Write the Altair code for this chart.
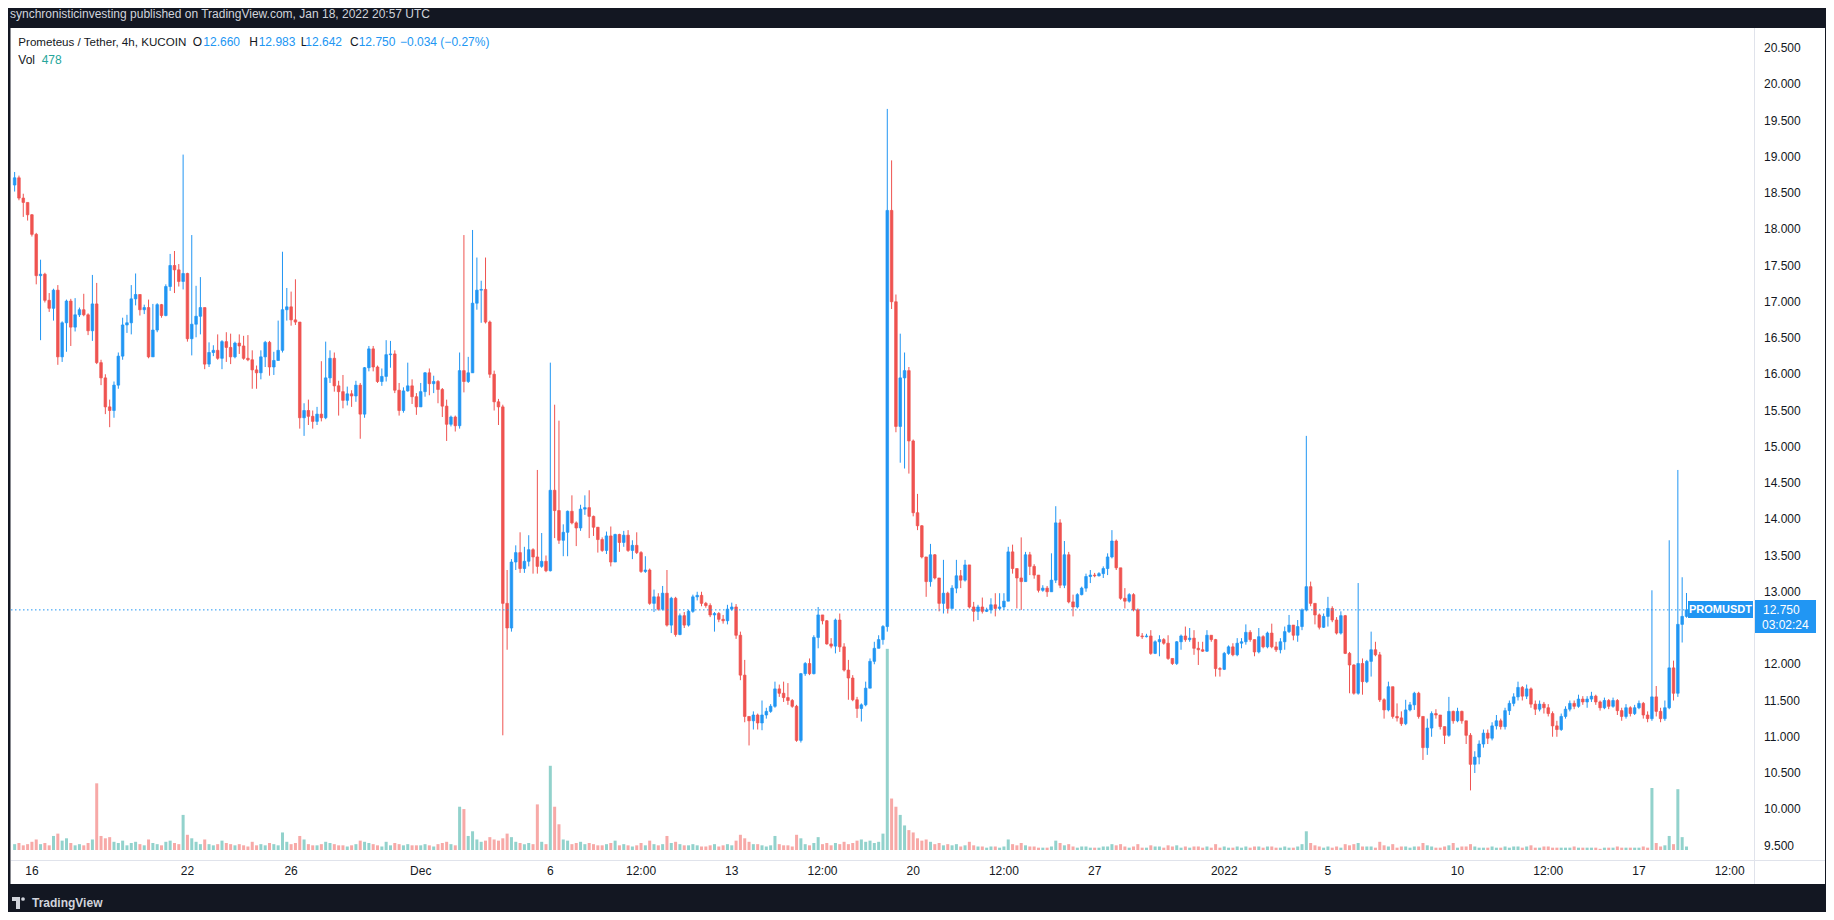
import altair as alt
import pandas as pd

# PROM/USDT 4h candles (KuCoin).
# First candle opens Nov 15 08:00 UTC, every later candle opens at the previous close.
FIRST_OPEN = 18.61

CLOSE = [
    18.71, 18.43, 18.37, 18.20,                      # Nov 15 (08:00 ->)
    17.93, 17.36, 17.38, 17.02, 16.91, 17.16,        # Nov 16
    16.24, 16.71, 17.01, 16.65, 16.82, 16.89,
    16.82, 16.60, 16.97, 16.16, 15.95, 15.55,
    15.50, 15.85, 16.25, 16.68, 16.71, 17.04,
    17.10, 16.89, 16.92, 16.24, 16.61, 16.96,        # Nov 20
    16.81, 17.21, 17.50, 17.44, 17.28, 17.39,
    16.49, 16.69, 16.80, 16.92, 16.14, 16.30,
    16.33, 16.22, 16.45, 16.37, 16.24, 16.43,
    16.39, 16.22, 16.20, 16.06, 16.02, 16.24,
    16.44, 16.10, 16.19, 16.33, 16.89, 16.93,        # Nov 25
    16.75, 16.72, 15.40, 15.50, 15.42, 15.35,
    15.45, 15.40, 15.95, 16.22, 15.84, 15.76,
    15.64, 15.73, 15.70, 15.85, 15.45, 16.09,
    16.35, 16.10, 15.90, 15.97, 16.27, 16.28,
    15.78, 15.50, 15.77, 15.84, 15.69, 15.55,        # Nov 30
    15.76, 16.02, 15.87, 15.90, 15.79, 15.56,        # Dec 1
    15.31, 15.41, 15.29, 16.05, 15.90, 16.02,
    16.98, 17.16, 17.17, 16.72, 16.00, 15.62,
    15.55, 12.84, 12.50, 13.41, 13.54, 13.32,
    13.42, 13.58, 13.48, 13.35, 13.42, 13.29,        # Dec 5
    14.40, 14.12, 13.71, 13.82, 14.11, 13.95,
    13.88, 14.14, 14.16, 14.04, 13.89, 13.72,
    13.57, 13.77, 13.41, 13.79, 13.68, 13.78,
    13.57, 13.64, 13.54, 13.28, 13.30, 12.84,
    12.93, 12.76, 12.98, 12.54, 12.91, 12.41,        # Dec 10
    12.67, 12.54, 12.73, 12.93, 12.95, 12.84,
    12.81, 12.68, 12.70, 12.62, 12.60, 12.76,
    12.79, 12.40, 11.85, 11.28, 11.22, 11.30,
    11.19, 11.30, 11.35, 11.42, 11.66, 11.60,
    11.54, 11.50, 11.42, 10.95, 11.87, 12.01,        # Dec 15
    11.87, 12.37, 12.68, 12.60, 12.28, 12.25,
    12.61, 12.24, 11.92, 11.81, 11.51, 11.39,
    11.44, 11.67, 12.04, 12.22, 12.34, 12.52,
    18.26, 17.00, 15.28, 15.95, 16.05, 15.08,
    14.09, 13.91, 13.48, 13.14, 13.51, 13.19,        # Dec 20
    12.84, 12.98, 12.77, 13.05, 13.22, 13.16,
    13.37, 12.79, 12.73, 12.79, 12.73, 12.75,
    12.82, 12.77, 12.79, 12.87, 13.55, 13.32,
    13.19, 13.14, 13.51, 13.35, 13.23, 13.02,
    13.05, 13.00, 13.16, 13.95, 13.09, 13.51,        # Dec 25
    12.86, 12.79, 12.96, 13.05, 13.21, 13.23,
    13.22, 13.25, 13.32, 13.48, 13.70, 13.33,
    12.91, 12.87, 12.96, 12.75, 12.39, 12.38,
    12.39, 12.15, 12.31, 12.34, 12.29, 12.08,
    12.01, 12.31, 12.39, 12.34, 12.36, 12.22,        # Dec 30
    12.20, 12.18, 12.40, 12.34, 11.94, 11.93,
    12.15, 12.24, 12.13, 12.29, 12.31, 12.44,        # Jan 1
    12.34, 12.17, 12.38, 12.24, 12.43, 12.24,
    12.20, 12.31, 12.45, 12.54, 12.40, 12.52,
    12.75, 13.07, 12.84, 12.68, 12.51, 12.66,
    12.77, 12.61, 12.43, 12.67, 12.15, 11.99,        # Jan 5
    11.60, 12.01, 11.76, 12.04, 12.20, 12.13,
    11.51, 11.37, 11.69, 11.28, 11.26, 11.18,
    11.37, 11.44, 11.60, 11.28, 10.85, 11.12,
    11.32, 11.30, 11.14, 11.02, 11.35, 11.22,
    11.35, 11.22, 11.02, 10.62, 10.72, 10.90,        # Jan 10
    11.05, 10.98, 11.15, 11.22, 11.14, 11.36,
    11.46, 11.55, 11.68, 11.56, 11.66, 11.45,
    11.38, 11.45, 11.40, 11.32, 11.15, 11.10,
    11.28, 11.38, 11.46, 11.42, 11.52, 11.48,
    11.52, 11.56, 11.48, 11.40, 11.50, 11.42,        # Jan 15
    11.50, 11.36, 11.28, 11.40, 11.32, 11.40,
    11.46, 11.30, 11.25, 11.55, 11.35, 11.25,
    11.40, 11.95, 11.60, 12.55, 12.66, 12.75,        # Jan 18
]

HIGH = [
    18.79, 18.74, 18.49, 18.36,
    18.21, 17.95, 17.58, 17.40, 17.12, 17.18,
    17.23, 16.73, 17.03, 17.04, 17.05, 16.92,
    17.11, 16.84, 17.37, 17.26, 16.20, 16.00,
    15.65, 15.90, 16.30, 16.78, 16.82, 17.23,
    17.39, 17.10, 16.96, 17.03, 16.97, 16.98,
    16.97, 17.24, 17.66, 17.70, 17.52, 19.03,
    17.40, 17.92, 17.22, 17.34, 16.92, 16.44,
    16.40, 16.55, 16.47, 16.58, 16.56, 16.45,
    16.55, 16.53, 16.54, 16.33, 16.12, 16.33,
    16.46, 16.46, 16.31, 16.74, 17.69, 17.19,
    17.14, 17.31, 16.72, 15.60, 15.65, 15.50,
    15.55, 16.18, 16.45, 16.33, 16.30, 15.91,
    15.99, 15.83, 15.78, 15.91, 15.88, 16.10,
    16.39, 16.39, 16.12, 16.08, 16.47, 16.46,
    16.33, 15.88, 15.82, 16.16, 15.93, 15.74,
    15.88, 16.03, 16.08, 15.98, 15.92, 15.81,
    15.65, 15.43, 15.43, 16.30, 17.92, 16.24,
    17.99, 17.61, 17.29, 17.61, 16.74, 16.05,
    15.66, 15.58, 13.30, 13.45, 13.64, 13.82,
    13.62, 13.78, 13.60, 14.68, 13.81, 13.50,
    16.16, 15.58, 15.36, 13.93, 14.12, 14.33,
    13.97, 14.20, 14.33, 14.40, 14.05, 13.88,
    13.75, 13.83, 13.90, 13.80, 13.80, 13.84,
    13.85, 13.71, 13.82, 13.56, 13.49, 13.32,
    13.03, 12.98, 13.08, 13.30, 12.93, 12.93,
    12.70, 12.72, 12.75, 12.96, 13.00, 13.00,
    12.86, 12.84, 12.72, 12.72, 12.68, 12.82,
    12.85, 12.83, 12.45, 12.06, 11.25, 11.35,
    11.32, 11.50, 11.40, 11.45, 11.76, 11.72,
    11.76, 11.74, 11.52, 11.44, 11.88, 12.03,
    12.08, 12.40, 12.79, 12.65, 12.61, 12.36,
    12.63, 12.70, 12.29, 12.06, 11.85, 11.55,
    11.46, 11.76, 12.08, 12.31, 12.40, 12.54,
    19.66, 18.95, 17.10, 16.56, 16.30, 16.10,
    15.10, 14.35, 13.92, 13.48, 13.66, 13.52,
    13.19, 13.44, 13.00, 13.09, 13.44, 13.30,
    13.44, 13.37, 12.86, 12.82, 12.92, 12.78,
    12.91, 12.98, 12.98, 12.98, 13.62, 13.65,
    13.28, 13.75, 13.55, 13.55, 13.38, 13.14,
    13.09, 13.08, 13.53, 14.18, 14.00, 13.70,
    13.55, 12.96, 12.98, 13.07, 13.25, 13.30,
    13.26, 13.27, 13.35, 13.53, 13.85, 13.72,
    13.33, 13.05, 12.98, 12.98, 12.77, 12.43,
    12.42, 12.47, 12.33, 12.40, 12.36, 12.40,
    12.08, 12.32, 12.41, 12.52, 12.50, 12.47,
    12.31, 12.31, 12.47, 12.40, 12.35, 11.96,
    12.17, 12.26, 12.29, 12.36, 12.36, 12.55,
    12.47, 12.31, 12.50, 12.40, 12.45, 12.56,
    12.31, 12.36, 12.52, 12.68, 12.54, 12.61,
    12.77, 15.15, 13.14, 12.84, 12.70, 12.70,
    12.93, 12.80, 12.65, 12.73, 12.68, 12.17,
    12.00, 13.12, 12.08, 12.06, 12.45, 12.31,
    12.17, 11.53, 11.76, 11.69, 11.46, 11.35,
    11.51, 11.48, 11.62, 11.62, 11.28, 11.25,
    11.35, 11.38, 11.25, 11.14, 11.55, 11.36,
    11.40, 11.36, 11.22, 11.05, 10.80, 10.95,
    11.10, 11.10, 11.20, 11.30, 11.25, 11.40,
    11.50, 11.60, 11.76, 11.70, 11.72, 11.68,
    11.50, 11.50, 11.48, 11.45, 11.35, 11.22,
    11.32, 11.42, 11.50, 11.50, 11.58, 11.56,
    11.56, 11.62, 11.58, 11.50, 11.54, 11.52,
    11.54, 11.52, 11.40, 11.45, 11.42, 11.44,
    11.50, 11.48, 11.35, 13.02, 11.70, 11.40,
    11.50, 13.71, 12.05, 14.68, 13.20, 12.983,
]

LOW = [
    18.52, 18.40, 18.17, 18.12,
    17.90, 17.24, 16.47, 16.99, 16.86, 16.74,
    16.13, 16.17, 16.31, 16.39, 16.59, 16.79,
    16.80, 16.54, 16.46, 16.14, 15.85, 15.45,
    15.27, 15.40, 15.80, 16.20, 16.57, 16.55,
    16.95, 16.81, 16.83, 16.22, 16.24, 16.58,
    16.78, 16.80, 17.15, 17.12, 17.21, 17.17,
    16.45, 16.26, 16.51, 16.55, 16.07, 16.10,
    16.25, 16.20, 16.07, 16.17, 16.14, 16.22,
    16.28, 16.20, 16.18, 15.80, 15.80, 15.93,
    16.10, 15.98, 15.99, 16.19, 16.30, 16.74,
    16.67, 16.68, 15.25, 15.15, 15.30, 15.25,
    15.30, 15.35, 15.38, 15.88, 15.76, 15.43,
    15.53, 15.57, 15.55, 15.62, 15.11, 15.40,
    16.04, 16.04, 15.88, 15.84, 15.90, 16.09,
    15.74, 15.43, 15.47, 15.76, 15.59, 15.44,
    15.55, 15.69, 15.71, 15.74, 15.60, 15.41,
    15.08, 15.28, 15.21, 15.25, 15.75, 15.88,
    16.08, 16.89, 16.71, 16.70, 15.95, 15.50,
    15.30, 11.02, 12.20, 12.45, 13.30, 13.26,
    13.26, 13.35, 13.25, 13.25, 13.33, 13.27,
    13.28, 13.74, 13.66, 13.49, 13.49, 13.93,
    13.63, 13.84, 14.06, 13.74, 13.77, 13.54,
    13.55, 13.52, 13.35, 13.41, 13.55, 13.62,
    13.55, 13.45, 13.52, 13.26, 13.26, 12.82,
    12.72, 12.74, 12.74, 12.52, 12.43, 12.38,
    12.40, 12.50, 12.52, 12.71, 12.88, 12.80,
    12.78, 12.65, 12.45, 12.58, 12.56, 12.55,
    12.74, 12.35, 11.78, 11.20, 10.88, 11.10,
    11.10, 11.09, 11.25, 11.33, 11.40, 11.55,
    11.48, 11.44, 11.40, 10.93, 10.92, 11.84,
    11.85, 11.86, 12.22, 12.55, 12.27, 12.22,
    12.15, 12.17, 11.90, 11.51, 11.49, 11.26,
    11.21, 11.42, 11.67, 12.00, 12.24, 12.27,
    12.45, 16.90, 15.20, 14.78, 14.70, 14.63,
    14.04, 13.85, 13.46, 12.93, 13.07, 13.17,
    12.73, 12.70, 12.70, 12.77, 12.98, 13.05,
    13.14, 12.77, 12.59, 12.61, 12.70, 12.72,
    12.70, 12.66, 12.75, 12.75, 12.93, 13.25,
    12.77, 12.75, 13.14, 13.23, 13.18, 12.99,
    13.00, 12.93, 13.00, 13.12, 13.05, 13.05,
    12.84, 12.66, 12.77, 12.95, 13.00, 13.12,
    13.20, 13.21, 13.19, 13.23, 13.46, 13.30,
    12.89, 12.77, 12.85, 12.73, 12.38, 12.35,
    12.37, 12.13, 12.14, 12.11, 12.27, 12.06,
    11.99, 11.99, 12.20, 12.31, 12.31, 12.13,
    11.99, 12.17, 12.17, 12.31, 11.83, 11.83,
    11.92, 12.13, 12.11, 12.11, 12.22, 12.27,
    12.31, 12.11, 12.15, 12.22, 12.22, 12.22,
    12.17, 12.15, 12.20, 12.43, 12.33, 12.31,
    12.47, 12.73, 12.80, 12.55, 12.48, 12.50,
    12.52, 12.58, 12.41, 12.41, 12.14, 11.60,
    11.58, 11.58, 11.58, 11.74, 11.83, 12.11,
    11.48, 11.25, 11.35, 11.25, 11.21, 11.15,
    11.16, 11.35, 11.37, 11.25, 10.68, 10.75,
    11.00, 11.25, 11.10, 10.90, 11.00, 11.18,
    11.20, 11.18, 10.90, 10.26, 10.50, 10.62,
    10.85, 10.90, 10.95, 11.10, 11.10, 11.10,
    11.30, 11.42, 11.50, 11.50, 11.52, 11.40,
    11.30, 11.35, 11.32, 11.28, 11.00, 11.00,
    11.08, 11.25, 11.35, 11.38, 11.40, 11.44,
    11.40, 11.48, 11.44, 11.36, 11.38, 11.38,
    11.40, 11.30, 11.22, 11.25, 11.28, 11.30,
    11.38, 11.25, 11.20, 11.22, 11.28, 11.20,
    11.22, 11.38, 11.50, 11.55, 12.30, 12.642,
]

VOLUME = [
    800, 960, 640, 800,
    1120, 1440, 800, 960, 640, 1920,
    2240, 1280, 1600, 960, 640, 800,
    640, 960, 1440, 9120, 1920, 1600,
    1760, 1120, 960, 1280, 640, 960,
    1120, 800, 640, 1440, 960, 800,
    640, 1120, 1280, 960, 800, 4800,
    2080, 1600, 1120, 800, 1440, 800,
    640, 800, 1280, 960, 800, 640,
    800, 640, 480, 1120, 640, 800,
    640, 960, 800, 640, 2400, 1120,
    800, 960, 1920, 1440, 800, 640,
    640, 800, 1120, 960, 800, 640,
    640, 480, 640, 800, 1280, 1120,
    960, 800, 640, 480, 1120, 640,
    960, 800, 640, 800, 640, 640,
    640, 800, 640, 480, 800, 960,
    1120, 800, 640, 5920, 5600, 1920,
    2560, 1440, 1120, 1280, 1760, 1440,
    1280, 1600, 2240, 1760, 1120, 960,
    800, 960, 800, 6240, 1120, 800,
    11520, 5920, 3520, 1440, 1280, 800,
    960, 1120, 800, 960, 800, 640,
    640, 800, 960, 1280, 640, 800,
    640, 480, 640, 960, 640, 1280,
    800, 640, 800, 1920, 960, 1120,
    800, 640, 640, 800, 640, 480,
    480, 640, 800, 480, 640, 800,
    640, 1280, 2080, 1600, 1120, 800,
    800, 640, 480, 640, 1920, 800,
    640, 640, 480, 2080, 1600, 800,
    640, 960, 1760, 800, 960, 640,
    960, 800, 1120, 800, 960, 1280,
    1440, 1120, 1280, 960, 1120, 2240,
    27520, 7040, 5920, 4800, 3360, 2720,
    2400, 1600, 1280, 1440, 1120, 800,
    960, 640, 800, 640, 800, 480,
    640, 1120, 640, 480, 480, 320,
    480, 480, 320, 480, 1440, 800,
    640, 960, 640, 480, 480, 320,
    320, 320, 480, 1280, 960, 640,
    800, 480, 320, 480, 480, 320,
    320, 320, 480, 480, 800, 640,
    800, 480, 320, 480, 800, 320,
    320, 640, 480, 480, 320, 640,
    480, 640, 320, 480, 320, 480,
    480, 320, 480, 320, 800, 320,
    480, 320, 320, 480, 320, 480,
    320, 480, 480, 320, 480, 480,
    320, 320, 480, 320, 320, 480,
    800, 2560, 960, 640, 480, 320,
    480, 320, 480, 320, 800, 640,
    800, 960, 480, 480, 480, 320,
    1120, 640, 480, 800, 320, 480,
    480, 320, 480, 480, 960, 640,
    480, 320, 320, 480, 640, 960,
    320, 480, 480, 800, 480, 320,
    320, 320, 480, 320, 320, 480,
    320, 480, 480, 320, 480, 640,
    320, 320, 480, 480, 320, 320,
    320, 320, 320, 480, 320, 320,
    320, 320, 320, 160, 320, 320,
    320, 480, 320, 320, 320, 320,
    320, 480, 320, 8480, 960, 480,
    640, 1920, 800, 8320, 1760, 478,
]

# price scale labels; 12.500 sits under the last-price tag, so it is not drawn
PRICE_TICKS = [9.5, 10.0, 10.5, 11.0, 11.5, 12.0, 13.0, 13.5, 14.0, 14.5, 15.0,
               15.5, 16.0, 16.5, 17.0, 17.5, 18.0, 18.5, 19.0, 19.5, 20.0, 20.5]
# days counted from Nov 16 00:00 UTC
DAY_TICKS = [0, 6, 10, 15, 20, 23.5, 27, 30.5, 34, 37.5, 41, 46, 50, 55, 58.5, 62, 65.5]
DAY_LABELS = ["16", "22", "26", "Dec", "6", "12:00", "13", "12:00", "20", "12:00",
              "27", "2022", "5", "10", "12:00", "17", "12:00"]

TITLE = "synchronisticinvesting published on TradingView.com, Jan 18, 2022 20:57 UTC"
SYMBOL = "Prometeus / Tether, 4h, KUCOIN"
OHLC_TEXT = ["O", "12.660", "H", "12.983", "L", "12.642", "C", "12.750", "\u22120.034 (\u22120.27%)"]
VOL_TEXT = "478"
TICKER = "PROMUSDT"
COUNTDOWN = "03:02:24"

BLUE = "#2196f3"
RED = "#ef5350"
TEAL = "#26a69a"
FRAME = "#131722"
INK = "#131722"
BORDER = "#e0e3eb"

W, H = 1743, 832

opens = [FIRST_OPEN] + CLOSE[:-1]
rows = []
for i, (o, h, l, c, v) in enumerate(zip(opens, HIGH, LOW, CLOSE, VOLUME)):
    up = c >= o
    rows.append(dict(d=(i - 4) / 6, o=o, h=max(h, o, c), l=min(l, o, c), c=c, v=v,
                     col=BLUE if up else RED, vcol=TEAL if up else RED))
df = pd.DataFrame(rows)
last = df.tail(1)
one = pd.DataFrame({"k": [0]})
price_ticks = pd.DataFrame({"p": PRICE_TICKS})
day_ticks = pd.DataFrame({"d": DAY_TICKS, "t": DAY_LABELS})

x_scale = alt.Scale(domain=[-0.614, 66.245], nice=False, zero=False)
y_scale = alt.Scale(domain=[9.30, 20.776], nice=False, zero=False)
v_scale = alt.Scale(domain=[-1368, 112450], nice=False, zero=False)

X = alt.X("d:Q", scale=x_scale, axis=None)


def frame_rect(x, x2, y, y2, color=FRAME):
    return alt.Chart(one).mark_rect(color=color).encode(
        x=alt.value(x), x2=alt.value(x2), y=alt.value(y), y2=alt.value(y2))


def label(text, x, y, color, size=12, weight="normal", align="left", baseline="alphabetic"):
    return alt.Chart(one).mark_text(text=text, color=color, fontSize=size, fontWeight=weight,
                                    align=align, baseline=baseline).encode(
        x=alt.value(x), y=alt.value(y))


frame = [
    frame_rect(-3, W + 72, -20, 0),
    frame_rect(-3, -0.5, 0, 856),
    frame_rect(1814, W + 72, 0, 856),
    frame_rect(-3, W + 72, 856, 884),
]

# pane borders
borders = [
    frame_rect(W, W + 1, 0, 856, BORDER),
    frame_rect(0, 1814, H, H + 1, BORDER),
]

volume = alt.Chart(df).mark_bar(size=3, opacity=0.5, clip=True).encode(
    x=X,
    y=alt.Y("v:Q", scale=v_scale, axis=None),
    y2=alt.datum(0),
    color=alt.Color("vcol:N", scale=None),
)

wicks = alt.Chart(df).mark_rule(strokeWidth=1, clip=True).encode(
    x=X,
    y=alt.Y("l:Q", scale=y_scale, axis=None),
    y2="h:Q",
    color=alt.Color("col:N", scale=None),
)

bodies = alt.Chart(df).mark_bar(size=2.6, strokeWidth=0.7, clip=True).encode(
    x=X,
    y=alt.Y("o:Q", scale=y_scale, axis=None),
    y2="c:Q",
    color=alt.Color("col:N", scale=None),
    stroke=alt.Stroke("col:N", scale=None),
)

price_labels = alt.Chart(price_ticks).mark_text(
    color=INK, fontSize=12, align="left", baseline="middle").encode(
    y=alt.Y("p:Q", scale=y_scale, axis=None),
    x=alt.value(W + 10),
    text=alt.Text("p:Q", format=".3f"),
)

time_labels = alt.Chart(day_ticks).mark_text(
    color=INK, fontSize=12, align="center", baseline="top").encode(
    x=X,
    y=alt.value(H + 6),
    text="t:N",
)

last_y = alt.Y("c:Q", scale=y_scale, axis=None)
price_line = alt.Chart(last).mark_rule(color=BLUE, strokeWidth=1, strokeDash=[1.5, 2.5]).encode(
    y=last_y, x=alt.value(0), x2=alt.value(W))
tag_box = alt.Chart(last).mark_rect(color=BLUE, yOffset=-9, y2Offset=8).encode(
    y=last_y, y2="c:Q", x=alt.value(1677), x2=alt.value(W - 1))
tag_text = alt.Chart(last).mark_text(text=TICKER, color="white", fontSize=11, fontWeight="bold",
                                     align="center", baseline="middle").encode(
    y=last_y, x=alt.value(1709.5))
price_box = alt.Chart(last).mark_rect(color=BLUE, yOffset=-10, y2Offset=23).encode(
    y=last_y, y2="c:Q", x=alt.value(W + 1), x2=alt.value(W + 62))
price_text = alt.Chart(last).mark_text(color="white", fontSize=12, align="left",
                                       baseline="middle").encode(
    y=last_y, x=alt.value(W + 9), text=alt.Text("c:Q", format=".3f"))
count_text = alt.Chart(last).mark_text(text=COUNTDOWN, color="white", fontSize=12, align="left",
                                       baseline="middle", dy=15).encode(
    y=last_y, x=alt.value(W + 8))

price = alt.layer(wicks, bodies, price_labels, price_line, tag_box, tag_text,
                  price_box, price_text, count_text)

# legend row
ohlc_x = [181.7, 192.3, 238.3, 247.7, 289.7, 294.3, 339, 347.7, 389]
legend = [label(SYMBOL, 7.3, 18, INK, size=11.6)]
for k, (t, xx) in enumerate(zip(OHLC_TEXT, ohlc_x)):
    legend.append(label(t, xx, 18, INK if k % 2 == 0 and k < 8 else BLUE))
legend += [label("Vol", 7.3, 36, INK), label(VOL_TEXT, 30.7, 36, TEAL)]

header = label(TITLE, -1, -9.7, "#d1d4dc", size=12)

logo = [
    frame_rect(1, 9, 869, 873, "#d1d4dc"),
    frame_rect(5, 9, 869, 881, "#d1d4dc"),
    alt.Chart(one).mark_point(shape="circle", filled=True, size=14, color="#d1d4dc", opacity=1).encode(
        x=alt.value(12), y=alt.value(871)),
    label("TradingView", 21, 875, "#d1d4dc", size=12, weight="bold", baseline="middle"),
]

chart = alt.layer(
    *frame, *borders, volume, price, time_labels, header, *legend, *logo
).resolve_scale(
    y="independent"
).properties(
    width=W,
    height=H,
    padding={"left": 3, "top": 20, "right": 72, "bottom": 52},
    autosize=alt.AutoSizeParams(type="none"),
).configure(
    background="white",
    font="Liberation Sans",
).configure_view(
    stroke="transparent",
    fill="white",
)

chart.save("out.html", embed_options={"renderer": "svg", "actions": False})
